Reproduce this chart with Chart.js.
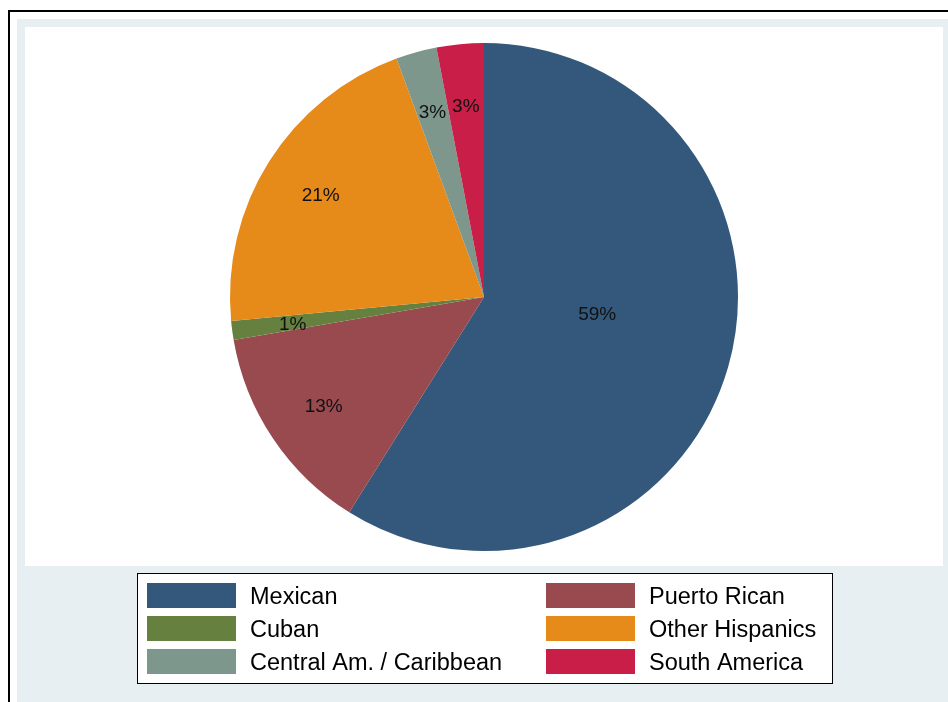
<!DOCTYPE html>
<html>
<head>
<meta charset="utf-8">
<script src="https://cdn.jsdelivr.net/npm/chart.js@4.4.1/dist/chart.umd.min.js"></script>
<style>
  html, body { margin: 0; padding: 0; background: #ffffff; }
  #wrap { position: absolute; left: 0; top: 0; width: 948px; height: 702px; }
</style>
</head>
<body>
<div id="wrap"><canvas id="pie"></canvas></div>
<script>
  // Chart data
  const groups = ['Mexican', 'Puerto Rican', 'Cuban', 'Other Hispanics', 'Central Am. / Caribbean', 'South America'];
  const shares = [58.9, 13.4, 1.2, 20.9, 2.6, 3.0];
  const sliceColors = ['#33587b', '#984a4f', '#66803f', '#e68a1a', '#7e978d', '#c81e47'];

  const FONT = '"Liberation Sans", Arial, sans-serif';

  // Background: outer frame, light graph region, white plot region
  const framePlugin = {
    id: 'frame',
    beforeDraw: function (chart) {
      const ctx = chart.ctx;
      ctx.save();
      ctx.fillStyle = '#ffffff';
      ctx.fillRect(0, 0, chart.width, chart.height);
      ctx.fillStyle = '#e8eff2';
      ctx.fillRect(17, 19, chart.width - 17, chart.height - 19);
      ctx.fillStyle = '#ffffff';
      ctx.fillRect(25, 27, 918, 539);
      ctx.strokeStyle = '#000000';
      ctx.lineWidth = 2;
      ctx.beginPath();
      ctx.moveTo(9, chart.height + 2);
      ctx.lineTo(9, 11);
      ctx.lineTo(chart.width + 2, 11);
      ctx.stroke();
      ctx.restore();
    }
  };

  // Percent labels on the slices
  const sliceLabels = {
    id: 'sliceLabels',
    afterDatasetsDraw: function (chart) {
      const ctx = chart.ctx;
      const meta = chart.getDatasetMeta(0);
      ctx.save();
      ctx.font = '19px ' + FONT;
      ctx.fillStyle = '#111111';
      ctx.textAlign = 'center';
      ctx.textBaseline = 'middle';
      meta.data.forEach(function (arc, i) {
        const p = arc.getProps(['x', 'y', 'startAngle', 'endAngle', 'outerRadius']);
        const mid = (p.startAngle + p.endAngle) / 2;
        const big = shares[i] > 50;
        const r = p.outerRadius * (big ? 0.45 : 0.76);
        const a = big ? mid - 0.14 : mid;
        ctx.fillText(Math.round(shares[i]) + '%', p.x + Math.cos(a) * r, p.y + Math.sin(a) * r + 2);
      });
      ctx.restore();
    }
  };

  // Two-column boxed legend under the pie
  const boxLegend = {
    id: 'boxLegend',
    afterDraw: function (chart) {
      const ctx = chart.ctx;
      ctx.save();
      ctx.fillStyle = '#ffffff';
      ctx.fillRect(137, 573, 695, 110);
      ctx.strokeStyle = '#000000';
      ctx.lineWidth = 1;
      ctx.strokeRect(137.5, 573.5, 695, 110);
      ctx.font = '23.5px ' + FONT;
      ctx.textBaseline = 'middle';
      ctx.textAlign = 'left';
      const colX = [147, 546];
      const rowY = [583, 616, 649];
      groups.forEach(function (name, i) {
        const x = colX[i % 2];
        const y = rowY[Math.floor(i / 2)];
        ctx.fillStyle = sliceColors[i];
        ctx.fillRect(x, y, 89, 25);
        ctx.fillStyle = '#000000';
        ctx.fillText(name, x + 103, y + 15);
      });
      ctx.restore();
    }
  };

  const canvas = document.getElementById('pie');
  new Chart(canvas.getContext('2d'), {
    type: 'pie',
    data: {
      labels: groups,
      datasets: [{
        data: shares,
        backgroundColor: sliceColors,
        borderColor: sliceColors,
        borderWidth: 0
      }]
    },
    options: {
      responsive: true,
      maintainAspectRatio: false,
      animation: false,
      layout: {
        padding: { left: 230, right: 210, top: 43, bottom: 151 }
      },
      plugins: {
        legend: { display: false },
        tooltip: { enabled: false }
      }
    },
    plugins: [framePlugin, sliceLabels, boxLegend]
  });
</script>
</body>
</html>
